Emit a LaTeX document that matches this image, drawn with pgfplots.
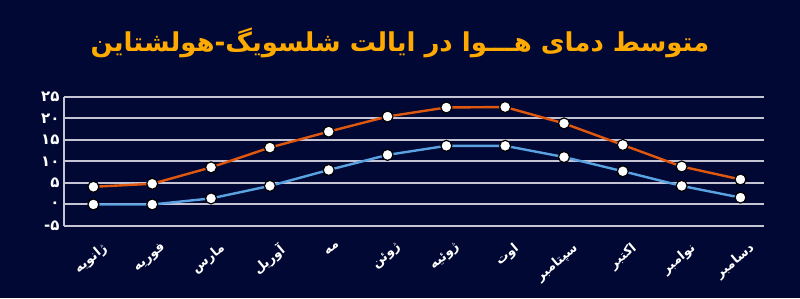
\documentclass[border=0pt]{standalone}
\usepackage{pgfplots}
\pgfplotsset{compat=1.18}
\usepackage{fontspec}
\TeXXeTstate=1
\newfontfamily\arabicfont[Script=Arabic]{DejaVu Sans}
\definecolor{bg}{HTML}{000833}
\definecolor{ttl}{HTML}{FFAA00}
\definecolor{orn}{HTML}{E0580F}
\definecolor{blu}{HTML}{5AA2E2}
\definecolor{grd}{HTML}{C4C4D4}
\newcommand{\fa}[1]{{\arabicfont\beginR #1\endR}}
\newcommand\mk[2]{\expandafter\newsavebox\csname lb#1\endcsname
  \expandafter\sbox\csname lb#1\endcsname{\color{white}\arabicfont\bfseries\fontsize{13}{15}\selectfont\beginR #2\endR}}
\begin{document}
\mk{A}{ژانویه}\mk{B}{فوریه}\mk{C}{مارس}\mk{D}{آوریل}\mk{E}{مه}\mk{F}{ژوئن}%
\mk{G}{ژوئیه}\mk{H}{اوت}\mk{I}{سپتامبر}\mk{J}{اکتبر}\mk{K}{نوامبر}\mk{L}{دسامبر}%
\begin{tikzpicture}
\fill[bg] (0,0) rectangle (800pt,298pt);
\node[text=ttl, font=\arabicfont\bfseries\fontsize{26}{30}\selectfont] at (400pt,255pt) {\beginR متوسط دمای هـــوا در ایالت شلسویگ-هولشتاین\endR};
\begin{axis}[
  at={(64pt,72pt)}, anchor=south west,
  width=700pt, height=129.3pt, scale only axis,
  xmin=-0.5, xmax=11.4, ymin=-5, ymax=25,
  axis x line=bottom,
  x axis line style={draw=none},
  axis y line=left,
  y axis line style={-, grd, line width=2pt},
  ytick={-5,0,5,10,15,20,25},
  yticklabels={-\fa{۵},\fa{۰},\fa{۵},\fa{۱۰},\fa{۱۵},\fa{۲۰},\fa{۲۵}},
  yticklabel style={text=white, font=\arabicfont\bfseries\fontsize{15}{16}\selectfont, xshift=-1pt},
  major tick length=0pt,
  ymajorgrids,
  grid style={grd, line width=2pt},
  xtick={0,...,11},
  xticklabels={\usebox{\lbA},\usebox{\lbB},\usebox{\lbC},\usebox{\lbD},\usebox{\lbE},\usebox{\lbF},\usebox{\lbG},\usebox{\lbH},\usebox{\lbI},\usebox{\lbJ},\usebox{\lbK},\usebox{\lbL}},
  xticklabel style={text=white, xshift=8pt, yshift=-14pt, rotate=40, anchor=north east, inner sep=1pt},
  clip=false,
]
\addplot[orn, line width=2.4pt, mark=*, mark size=5.5pt, mark options={fill=white, draw=black, line width=1.2pt}] coordinates {
(0,4.1) (1,4.8) (2,8.6) (3,13.2) (4,16.9) (5,20.4) (6,22.5) (7,22.6) (8,18.8) (9,13.8) (10,8.8) (11,5.8)};
\addplot[blu, line width=2.4pt, mark=*, mark size=5.5pt, mark options={fill=white, draw=black, line width=1.2pt}] coordinates {
(0,0) (1,0) (2,1.4) (3,4.3) (4,8.0) (5,11.5) (6,13.6) (7,13.6) (8,11.0) (9,7.7) (10,4.3) (11,1.6)};
\end{axis}
\end{tikzpicture}
\end{document}
